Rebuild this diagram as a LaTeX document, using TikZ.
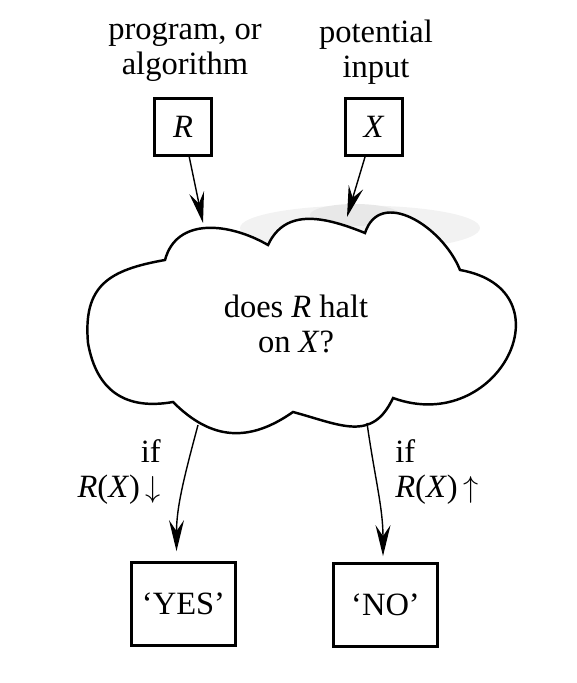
\documentclass[tikz,border=0pt]{standalone}
\usepackage{fontspec}
\setmainfont{Liberation Serif}
\usetikzlibrary{arrows.meta}

\begin{document}
\begin{tikzpicture}[
    lbl/.style={font=\fontsize{18.5}{20}\selectfont, inner sep=0pt},
    inbox/.style={draw, line width=1.6pt, minimum width=1.14cm, minimum height=1.14cm, inner sep=0pt, font=\fontsize{18.5}{20}\selectfont},
    outbox/.style={draw, line width=1.6pt, minimum width=2.08cm, minimum height=1.66cm, inner sep=0pt, font=\fontsize{18.5}{20}\selectfont},
    flow/.style={line width=0.8pt, -{Stealth[length=0.62cm, width=0.3cm, inset=0.22cm]}},
]
    \useasboundingbox (0,0) rectangle (11.52,13.66);
    % what goes in
    \node[lbl, align=center] (prog) at (3.70,12.62) {program, or\\algorithm};
    \node[lbl, align=center] (pot) at (7.52,12.62) {potential\\input};
    \node[inbox] (R) at (3.66,11.12) {\textit{R}};
    \node[inbox] (X) at (7.48,11.12) {\textit{X}};
    % grey smudge on top of the cloud
    \fill[gray!10] (7.2,9.1) ellipse (2.4 and 0.45);
    \fill[gray!18] (7.1,9.36) ellipse (0.9 and 0.22);
    % the cloud, corner points between the puffs
    \coordinate (c1) at (3.30,8.46);
    \coordinate (c2) at (5.36,8.76);
    \coordinate (c3) at (7.30,9.00);
    \coordinate (c4) at (9.20,8.26);
    \coordinate (c5) at (7.86,5.70);
    \coordinate (c6) at (5.86,5.42);
    \coordinate (c7) at (3.46,5.62);
    \coordinate (c8) at (1.76,6.80);
    \draw[line width=1.4pt, fill=white] (c1) to[out=75,in=150,looseness=1.1] (c2) to[out=65,in=158,looseness=1.1] (c3)
        to[out=72,in=112,looseness=1.2] (c4) to[out=-10,in=-20,looseness=2] (c5) to[out=-115,in=-15,looseness=1.25] (c6)
        to[out=-145,in=-45,looseness=1.15] (c7) to[out=190,in=-80,looseness=1.2] (c8) to[out=95,in=190,looseness=1.3] cycle;
    \node[lbl, align=center] (q) at (5.92,7.18) {does \textit{R} halt\\on \textit{X}?};
    % where the arrows meet the cloud
    \coordinate (inR) at (4.06,9.20);
    \coordinate (inX) at (6.94,9.32);
    \coordinate (outL) at (3.96,5.16);
    \coordinate (outR) at (7.34,5.20);
    \draw[flow] (R) -- (inR);
    \draw[flow] (X) -- (inX);
    % the two answers
    \node[outbox] (yes) at (3.67,1.58) {`YES'};
    \node[outbox] (no) at (7.71,1.56) {`NO'};
    \draw[flow, shorten >=0.2cm] (outL) to[out=-105,in=90] ([xshift=-0.14cm]yes.north);
    \draw[flow, shorten >=0.12cm] (outR) to[out=-82,in=90] ([xshift=-0.05cm]no.north);
    \node[lbl, align=right, anchor=east] (ifL) at (3.22,4.22) {if\\\textit{R}(\textit{X})\,$\downarrow$};
    \node[lbl, align=left, anchor=west] (ifR) at (7.90,4.22) {if\\\textit{R}(\textit{X})\,$\uparrow$};
\end{tikzpicture}
\end{document}
